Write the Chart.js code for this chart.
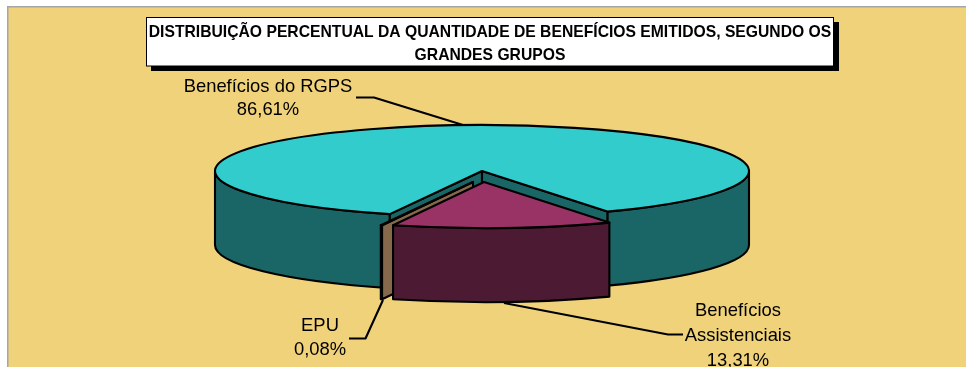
<!DOCTYPE html>
<html>
<head>
<meta charset="utf-8">
<style>
  html, body { margin: 0; padding: 0; background: #fff; overflow: hidden; }
  canvas { display: block; }
</style>
<script src="https://cdn.jsdelivr.net/npm/chart.js@4"></script>
</head>
<body>
<canvas id="pie" width="966" height="367"></canvas>
<script>
// data
const categories = ['Benefícios do RGPS', 'Benefícios Assistenciais', 'EPU'];
const shares = [86.61, 13.31, 0.08];
const titleLines = ['DISTRIBUIÇÃO PERCENTUAL DA QUANTIDADE DE BENEFÍCIOS EMITIDOS, SEGUNDO OS', 'GRANDES GRUPOS'];

// look of the 3D pie
const topColors = ['#33CCCC', '#993366', '#96744F'];
const wallColors = ['#1A6666', '#4D1A33', '#86694B'];
const PIE = {
    cx: 482, cy: 171, rx: 267, ry: 46, depth: 74,
    rotation: 200.2,
    shift: [[0, 0], [2, 11], [-9, 11]], // exploded slices, page pixels
    drawOrder: [0, 2, 1],
    line: 2.1
};
const squash = PIE.ry / PIE.rx;

// text blocks and leader lines
const CALLOUTS = [
    { lines: [categories[0], fmt(shares[0])], x: 268, y: 87, step: 23,
      leader: [[356, 97.5], [374, 97.5], [463, 125]] },
    { lines: ['Benefícios', 'Assistenciais', fmt(shares[1])], x: 738, y: 310.5, step: 25,
      leader: [[504, 303], [668, 334.5], [683, 334.5]] },
    { lines: [categories[2], fmt(shares[2])], x: 320, y: 326, step: 24,
      leader: [[383, 300], [365.5, 338.5], [349, 338.5]] }
];

function fmt(v) {
    return v.toFixed(2).replace('.', ',') + '%';
}

function rimPoint(arc, t, drop) {
    return [arc.x + PIE.rx * Math.cos(t), PIE.cy + (arc.y - PIE.cy) * squash + PIE.ry * Math.sin(t) + drop];
}

function apex(arc) {
    return [arc.x, PIE.cy + (arc.y - PIE.cy) * squash];
}

// outer wall, only the part of the rim that faces the viewer
function drawWall(ctx, arc, color) {
    const [ax, ay] = apex(arc);
    for (let k = 0; k < 2; k++) {
        const from = Math.max(arc.startAngle, k * 2 * Math.PI);
        const to = Math.min(arc.endAngle, k * 2 * Math.PI + Math.PI);
        if (to <= from) continue;
        ctx.beginPath();
        ctx.ellipse(ax, ay, PIE.rx, PIE.ry, 0, from, to);
        ctx.ellipse(ax, ay + PIE.depth, PIE.rx, PIE.ry, 0, to, from, true);
        ctx.closePath();
        ctx.fillStyle = color;
        ctx.fill();
        ctx.stroke();
    }
}

// flat cut faces of a slice, skipped when they point away from the viewer
function drawFace(ctx, arc, t, normal, color) {
    if (Math.sin(normal) <= 0) return;
    const [ax, ay] = apex(arc);
    const [rx, ry] = rimPoint(arc, t, 0);
    ctx.beginPath();
    ctx.moveTo(ax, ay);
    ctx.lineTo(rx, ry);
    ctx.lineTo(rx, ry + PIE.depth);
    ctx.lineTo(ax, ay + PIE.depth);
    ctx.closePath();
    ctx.fillStyle = color;
    ctx.fill();
    ctx.stroke();
}

const pie3d = {
    id: 'pie3d',
    beforeDraw(chart) {
        const ctx = chart.ctx;
        ctx.save();
        ctx.fillStyle = '#A6A6A6';
        ctx.fillRect(7, 6, 959, 361);
        ctx.fillStyle = '#F0D27A';
        ctx.fillRect(8.5, 7.5, 957.5, 359.5);
        // title box with its hard shadow
        ctx.fillStyle = '#000';
        ctx.fillRect(151, 22, 688, 49);
        ctx.fillStyle = '#fff';
        ctx.fillRect(146.5, 17.5, 687, 48.5);
        ctx.strokeStyle = '#000';
        ctx.lineWidth = 1;
        ctx.strokeRect(146.5, 17.5, 687, 48.5);
        ctx.restore();
    },
    afterDatasetsUpdate(chart) {
        chart.getDatasetMeta(0).data.forEach((arc, i) => {
            arc.x = PIE.cx + PIE.shift[i][0];
            arc.y = PIE.cy + PIE.shift[i][1] / squash;
        });
    },
    beforeDatasetsDraw(chart) {
        const ctx = chart.ctx;
        const arcs = chart.getDatasetMeta(0).data;
        ctx.save();
        ctx.strokeStyle = '#000';
        ctx.lineWidth = PIE.line;
        ctx.lineJoin = 'round';
        PIE.drawOrder.forEach(i => {
            const arc = arcs[i];
            drawWall(ctx, arc, wallColors[i]);
            drawFace(ctx, arc, arc.startAngle, arc.startAngle - Math.PI / 2, wallColors[i]);
            drawFace(ctx, arc, arc.endAngle, arc.endAngle + Math.PI / 2, wallColors[i]);
        });
        ctx.restore();
        // the library draws the slice tops flattened into an ellipse
        ctx.save();
        ctx.translate(0, PIE.cy);
        ctx.scale(1, squash);
        ctx.translate(0, -PIE.cy);
    },
    afterDatasetsDraw(chart) {
        const ctx = chart.ctx;
        const arcs = chart.getDatasetMeta(0).data;
        ctx.restore();
        ctx.save();
        ctx.strokeStyle = '#000';
        ctx.lineWidth = PIE.line;
        ctx.lineJoin = 'round';
        PIE.drawOrder.forEach(i => {
            const arc = arcs[i];
            const [ax, ay] = apex(arc);
            ctx.beginPath();
            ctx.moveTo(ax, ay);
            ctx.ellipse(ax, ay, PIE.rx, PIE.ry, 0, arc.startAngle, arc.endAngle);
            ctx.closePath();
            ctx.stroke();
        });
        // callouts
        ctx.font = '18.4px "Liberation Sans"';
        ctx.fillStyle = '#000';
        ctx.textAlign = 'center';
        ctx.textBaseline = 'middle';
        CALLOUTS.forEach(c => {
            c.lines.forEach((line, n) => ctx.fillText(line, c.x, c.y + n * c.step));
            ctx.beginPath();
            c.leader.forEach(([x, y], n) => (n ? ctx.lineTo(x, y) : ctx.moveTo(x, y)));
            ctx.stroke();
        });
        ctx.restore();
    }
};

new Chart(document.getElementById('pie'), {
    type: 'pie',
    data: {
        labels: categories,
        datasets: [{
            data: shares,
            backgroundColor: topColors,
            borderWidth: 0,
            radius: PIE.rx,
            rotation: PIE.rotation,
            clip: false
        }]
    },
    options: {
        responsive: false,
        animation: false,
        layout: { padding: { left: 14, top: 17 } },
        plugins: {
            legend: { display: false },
            tooltip: { enabled: false },
            title: {
                display: true,
                text: titleLines,
                color: '#000',
                font: { family: '"Liberation Sans"', size: 15.7, weight: 'bold', lineHeight: 1.48 },
                padding: { top: 4, bottom: 0 }
            }
        }
    },
    plugins: [pie3d]
});
</script>
</body>
</html>
